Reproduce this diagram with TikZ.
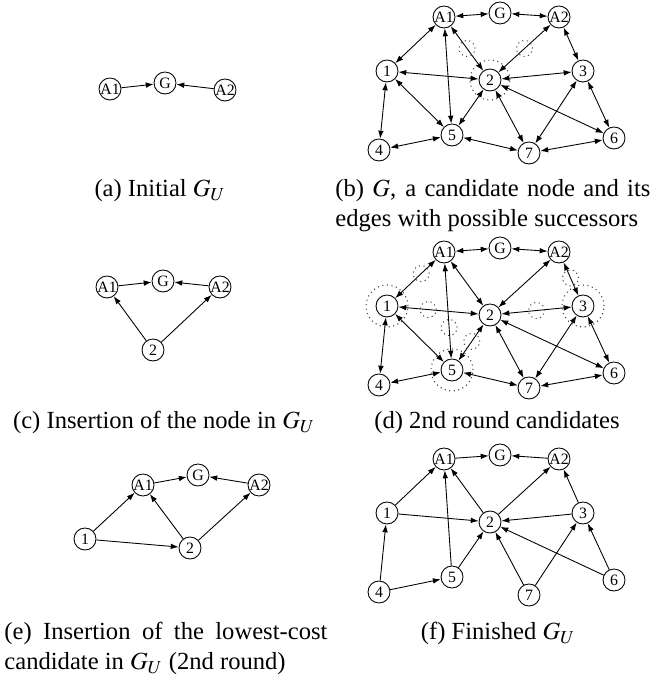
\documentclass[tikz,border=0pt]{standalone}
\usepackage{mathptmx}
\usepackage{fontspec}
\setmainfont{Liberation Serif}
\usetikzlibrary{arrows.meta, calc}
\tikzset{
  % thin lines and small filled tips, as in the printed figure
  every picture/.append style = {line width=0.5pt, >={Latex[length=4.5pt, width=3.2pt]}},
  vtx/.style    = {circle, draw, minimum size=0.44cm, inner sep=0pt, font=\fontsize{9}{10}\selectfont},
  cand/.style   = {dotted, line width=0.6pt, black!75},
  subcap/.style = {font=\fontsize{14}{17}\selectfont, anchor=base, inner sep=0pt},
  parcap/.style = {subcap, anchor=base west, align=justify, text width=#1},
}
% the ten nodes of the full graph, prefixed with #1
\newcommand{\fullgraph}[1]{%
  \node[vtx] (#1A1) at (8.88,13.16) {A1};
  \node[vtx] (#1G)  at (10.00,13.24) {G};
  \node[vtx] (#1A2) at (11.18,13.16) {A2};
  \node[vtx] (#11)  at (7.74,12.08) {1};
  \node[vtx] (#12)  at (9.80,11.90) {2};
  \node[vtx] (#13)  at (11.66,12.08) {3};
  \node[vtx] (#14)  at (7.58,10.50) {4};
  \node[vtx] (#15)  at (9.04,10.80) {5};
  \node[vtx] (#16)  at (12.28,10.74) {6};
  \node[vtx] (#17)  at (10.58,10.44) {7};
}
\def\graphedges{A1/G, G/A2, A1/1, A1/5, A1/2, A2/2, A2/3, 1/2, 1/4, 1/5, 2/3, 2/5, 2/7, 2/6, 3/7, 3/6, 4/5, 5/7, 7/6}
\def\finaledges{A1/G, A2/G, 1/A1, 1/2, 4/1, 4/5, 5/A1, 5/2, 2/A1, 2/A2, 3/A2, 3/2, 7/2, 7/3, 6/2, 6/3}

\begin{document}
\begin{tikzpicture}[x=1cm,y=1cm]
  \useasboundingbox (0,0) rectangle (13.18,13.5);
  % --- (a) initial G_U -----------------------------------------------------
  \node[vtx] (aA1) at (2.20,11.72) {A1};
  \node[vtx] (aG)  at (3.30,11.84) {G};
  \node[vtx] (aA2) at (4.50,11.70) {A2};
  \draw[->] (aA1) -- (aG);
  \draw[->] (aA2) -- (aG);
  \node[subcap] (capa) at (3.20,9.56) {(a) Initial $G_U$};
  % --- (b) full graph, candidate 2 -------------------------------------------
  \fullgraph{b}
  \foreach \u/\v in \graphedges \draw[<->] (b\u) -- (b\v);
  \draw[cand] (b2) circle (0.40cm);
  \draw[cand] ($(bA1)!0.5!(b2)$) circle (0.16cm);
  \draw[cand] ($(b2)!0.5!(bA2)$) circle (0.16cm);
  \node[parcap=6.30cm] (capb) at (6.70,9.56)
    {(b) $G$, a candidate node and its\linebreak edges with possible successors};
  % --- (c) node 2 inserted -------------------------------------------------
  \node[vtx] (cA1) at (2.14,7.76) {A1};
  \node[vtx] (cG)  at (3.26,7.88) {G};
  \node[vtx] (cA2) at (4.40,7.76) {A2};
  \node[vtx] (c2)  at (3.06,6.50) {2};
  \foreach \u/\v in {A1/G, A2/G, 2/A1, 2/A2} \draw[->] (c\u) -- (c\v);
  \node[subcap] (capc) at (3.28,4.92) {(c) Insertion of the node in $G_U$};
  % --- (d) second round candidates ---------------------------------------
  \begin{scope}[yshift=-4.70cm]
    \fullgraph{d}
    \foreach \u/\v in \graphedges \draw[<->] (d\u) -- (d\v);
    \foreach \n in {1,3,5} \draw[cand] (d\n) circle (0.42cm);
    \draw[cand] ($(d1)!0.6!(dA1)$) circle (0.16cm);
    \draw[cand] ($(d1)!0.4!(d2)$) circle (0.16cm);
    \draw[cand] ($(d5)!0.36!(dA1)$) circle (0.16cm);
    \draw[cand] ($(d5)!0.52!(d2)$) circle (0.16cm);
    \draw[cand] ($(d3)!0.5!(d2)$) circle (0.16cm);
    \draw[cand] ($(d3)!0.52!(dA2)$) circle (0.16cm);
  \end{scope}
  \node[subcap] (capd) at (9.94,4.92) {(d) 2nd round candidates};
  % --- (e) node 1 inserted -------------------------------------------------
  \node[vtx] (eA1) at (2.86,3.80) {A1};
  \node[vtx] (eG)  at (3.96,4.00) {G};
  \node[vtx] (eA2) at (5.18,3.80) {A2};
  \node[vtx] (e1)  at (1.70,2.72) {1};
  \node[vtx] (e2)  at (3.80,2.54) {2};
  \foreach \u/\v in {A1/G, A2/G, 1/A1, 1/2, 2/A1, 2/A2} \draw[->] (e\u) -- (e\v);
  \node[parcap=6.46cm] (cape) at (0.08,0.70)
    {(e) Insertion of the lowest-cost\linebreak candidate in $G_U$ (2nd round)};
  % --- (f) finished G_U ------------------------------------------------------
  \begin{scope}[yshift=-8.84cm]
    \fullgraph{f}
    \foreach \u/\v in \finaledges \draw[->] (f\u) -- (f\v);
  \end{scope}
  \node[subcap] (capf) at (9.96,0.70) {(f) Finished $G_U$};
\end{tikzpicture}
\end{document}
